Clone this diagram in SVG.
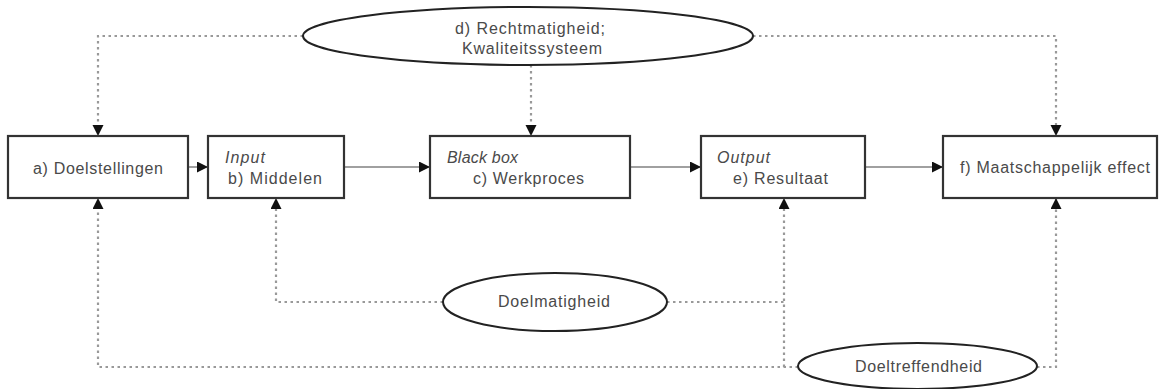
<svg xmlns="http://www.w3.org/2000/svg" width="1161" height="389" viewBox="0 0 1161 389">
<style>
.box{fill:#fff;stroke:#333;stroke-width:2.2}
.ell{fill:#fff;stroke:#222;stroke-width:2}
.t{font-family:"Liberation Sans",Arial,sans-serif;font-size:16px;fill:#4a4a4a}
.i{font-style:italic}
.dot{fill:none;stroke:#999;stroke-width:2.2;stroke-dasharray:2.5 3.5}
.sol{fill:none;stroke:#a0a0a0;stroke-width:2}
</style>
<defs>
<marker id="ah" markerUnits="userSpaceOnUse" markerWidth="12" markerHeight="12" refX="11" refY="5.5" orient="auto">
<path d="M0,0 L11,5.5 L0,11 z" fill="#111"/>
</marker>
</defs>
<g id="connectors">
<polyline class="dot" points="303,36 98,36 98,136" marker-end="url(#ah)"/>
<polyline class="dot" points="753,36 1056,36 1056,136" marker-end="url(#ah)"/>
<line class="dot" x1="531" y1="65" x2="531" y2="136" marker-end="url(#ah)"/>
<line class="sol" x1="188" y1="167" x2="208" y2="167" marker-end="url(#ah)"/>
<line class="sol" x1="344" y1="167" x2="430" y2="167" marker-end="url(#ah)"/>
<line class="sol" x1="630" y1="167" x2="701" y2="167" marker-end="url(#ah)"/>
<line class="sol" x1="865" y1="167" x2="943" y2="167" marker-end="url(#ah)"/>
<polyline class="dot" points="443,302 276,302 276,198" marker-end="url(#ah)"/>
<polyline class="dot" points="667,302 784,302"/>
<polyline class="dot" points="784,367 784,198" marker-end="url(#ah)"/>
<polyline class="dot" points="798,367 98,367 98,198" marker-end="url(#ah)"/>
<polyline class="dot" points="1037,367 1056,367 1056,198" marker-end="url(#ah)"/>
</g>
<g id="a">
<rect class="box" x="8" y="136" width="180" height="62"/>
<text class="t" x="33" y="174" textLength="130" lengthAdjust="spacing">a) Doelstellingen</text>
</g>
<g id="b">
<rect class="box" x="208" y="136" width="136" height="62"/>
<text class="t i" x="225" y="163" textLength="40" lengthAdjust="spacing">Input</text>
<text class="t" x="228" y="184" textLength="94" lengthAdjust="spacing">b) Middelen</text>
</g>
<g id="c">
<rect class="box" x="430" y="136" width="200" height="62"/>
<text class="t i" x="447" y="163" textLength="71" lengthAdjust="spacing">Black box</text>
<text class="t" x="473" y="184" textLength="111" lengthAdjust="spacing">c) Werkproces</text>
</g>
<g id="e">
<rect class="box" x="701" y="136" width="164" height="62"/>
<text class="t i" x="717" y="163" textLength="53" lengthAdjust="spacing">Output</text>
<text class="t" x="733" y="184" textLength="95" lengthAdjust="spacing">e) Resultaat</text>
</g>
<g id="f">
<rect class="box" x="943" y="136" width="214" height="62"/>
<text class="t" x="960" y="173" textLength="190" lengthAdjust="spacing">f) Maatschappelijk effect</text>
</g>
<g id="d">
<ellipse class="ell" cx="528" cy="36" rx="225" ry="29"/>
<text class="t" x="455" y="34" textLength="150" lengthAdjust="spacing">d) Rechtmatigheid;</text>
<text class="t" x="462" y="54" textLength="140" lengthAdjust="spacing">Kwaliteitssysteem</text>
</g>
<g id="doelmatigheid">
<ellipse class="ell" cx="555" cy="302" rx="112" ry="29"/>
<text class="t" x="498" y="307" textLength="112" lengthAdjust="spacing">Doelmatigheid</text>
</g>
<g id="doeltreffendheid">
<ellipse class="ell" cx="917.5" cy="366" rx="119.5" ry="23"/>
<text class="t" x="855" y="372" textLength="127" lengthAdjust="spacing">Doeltreffendheid</text>
</g>
</svg>
